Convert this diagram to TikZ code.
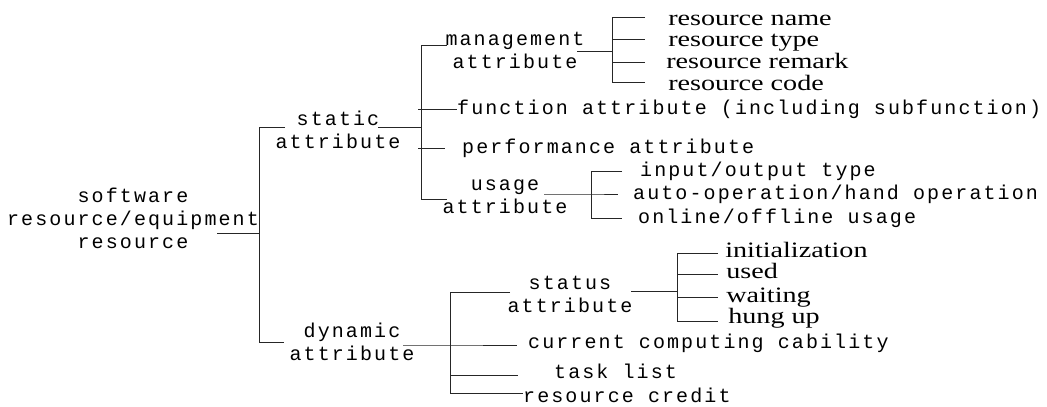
\documentclass[tikz,border=0pt]{standalone}
\usepackage{fontspec}
\setmainfont{Liberation Serif}
\newfontfamily\attrfont[LetterSpace=10.5]{Liberation Mono}
\usetikzlibrary{positioning}
\tikzstyle{attr} = [font=\attrfont\fontsize{20}{23}\selectfont, align=center, inner sep=0pt]
\tikzstyle{item} = [font=\attrfont\fontsize{20}{23}\selectfont, anchor=base west, inner sep=0pt]
\tikzstyle{leaf} = [font=\fontsize{22}{24}\selectfont, xscale=1.28, anchor=base west, inner sep=0pt]
\tikzstyle{line} = [line width=1pt, draw=black!85]

\begin{document}
\begin{tikzpicture}[x=1pt, y=-1pt]
\useasboundingbox (0,0) rectangle (1047,407);

\node[attr] (ROOT) at (133,218) {software\\resource/equipment\\resource};

\node[attr] (STATIC) at (338,130) {static\\attribute};
\node[attr] (DYNAMIC) at (352,342) {dynamic\\attribute};

% static attribute
\node[attr] (MANAGE) at (515,50) {management\\attribute};
\node[item] (FUNC) at (457,114) {function attribute (including subfunction)};
\node[item] (PERF) at (462,153) {performance attribute};
\node[attr] (USAGE) at (505,197) {usage\\attribute};

\node[leaf] (RNAME) at (668,25) {resource name};
\node[leaf] (RTYPE) at (668,46) {resource type};
\node[leaf] (RREMARK) at (666,68) {resource remark};
\node[leaf] (RCODE) at (668,90) {resource code};

\node[item] (IOTYPE) at (640,176) {input/output type};
\node[item] (AUTO) at (633,199) {auto-operation/hand operation};
\node[item] (ONLINE) at (638,223) {online/offline usage};

% dynamic attribute
\node[attr] (STATUS) at (570,294) {status\\attribute};
\node[item] (CURRENT) at (528,348) {current computing cability};
\node[item] (TASK) at (554,378) {task list};
\node[item] (CREDIT) at (523,402) {resource credit};

\node[leaf] (INIT) at (725,257) {initialization};
\node[leaf] (USED) at (726,278) {used};
\node[leaf] (WAIT) at (726,302) {waiting};
\node[leaf] (HUNG) at (728,323) {hung up};

% Lines
\coordinate (ROOT_OUT) at (217,233);
\coordinate (ROOT_J) at (259,233);
\draw[line] (ROOT_OUT) -- (ROOT_J);
\draw[line] (285,127) -- (259,127) -- (259,342) -- (284,342);

\coordinate (STATIC_OUT) at (378,127);
\coordinate (STATIC_J) at (421,127);
\draw[line] (STATIC_OUT) -- (STATIC_J);
\draw[line] (447,45) -- (421,45) -- (421,199) -- (447,199);
\draw[line] (418,109) -- (FUNC.west |- 0,109);
\draw[line] (418,148) -- (445,148);

\coordinate (MANAGE_OUT) at (577,51);
\coordinate (MANAGE_J) at (612,51);
\draw[line] (MANAGE_OUT) -- (MANAGE_J);
\draw[line] (645,17) -- (612,17) -- (612,82) -- (645,82);
\draw[line] (612,39) -- (645,39);
\draw[line] (612,62) -- (645,62);

\coordinate (USAGE_OUT) at (544,194);
\coordinate (USAGE_J) at (591,194);
\draw[line] (USAGE_OUT) -- (USAGE_J) -- (618,194);
\draw[line] (622,171) -- (591,171) -- (591,218) -- (622,218);

\coordinate (DYNAMIC_OUT) at (403,345);
\coordinate (DYNAMIC_J) at (450,345);
\draw[line] (DYNAMIC_OUT) -- (DYNAMIC_J) -- (517,345);
\draw[line] (510,292) -- (450,292) -- (450,393) -- (CREDIT.west |- 0,393);
\draw[line] (450,375) -- (518,375);

\coordinate (STATUS_OUT) at (631,291);
\coordinate (STATUS_J) at (677,291);
\draw[line] (STATUS_OUT) -- (STATUS_J);
\draw[line] (718,253) -- (677,253) -- (677,321) -- (718,321);
\draw[line] (677,274) -- (718,274);
\draw[line] (677,297) -- (718,297);

\end{tikzpicture}
\end{document}
